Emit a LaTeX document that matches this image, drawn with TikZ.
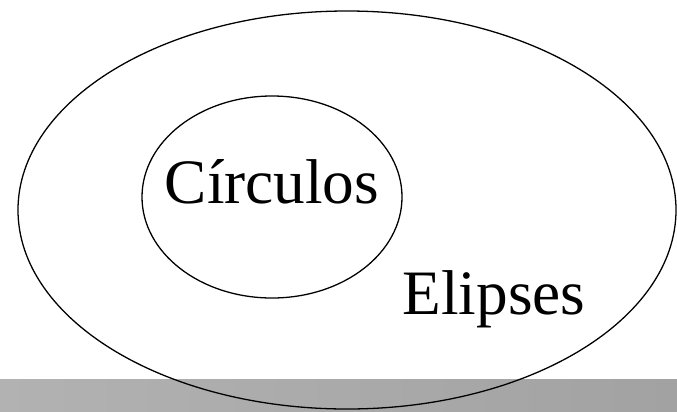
\documentclass[tikz,border=0pt]{standalone}
\usepackage{fontspec}
\setmainfont{Liberation Serif}
\usepackage{tikz}
\usetikzlibrary{positioning}
\definecolor{bandleft}{RGB}{178, 178, 178}
\definecolor{bandright}{RGB}{162, 162, 162}

\tikzset{
  setlabel/.style={inner sep=0pt, anchor=base, font=\fontsize{54}{62}\selectfont},
  setline/.style={draw=black, line width=1.1pt}
}

\begin{document}
\begin{tikzpicture}[x=0.03cm, y=-0.03cm]
        \useasboundingbox (0,0) rectangle (677,411);
        % Bottom band
        \shade[left color=bandleft, right color=bandright] (0,379) rectangle (677,411);

        % Sets
        \draw[setline] (347,210) ellipse [x radius=329, y radius=199];
        \draw[setline] (272,197) ellipse [x radius=130, y radius=101];

        % Labels
        \node[setlabel] (circulos) at (272,203) {Círculos};
        \node[setlabel] (elipses) at (494,314) {Elipses};
    \end{tikzpicture}
\end{document}
